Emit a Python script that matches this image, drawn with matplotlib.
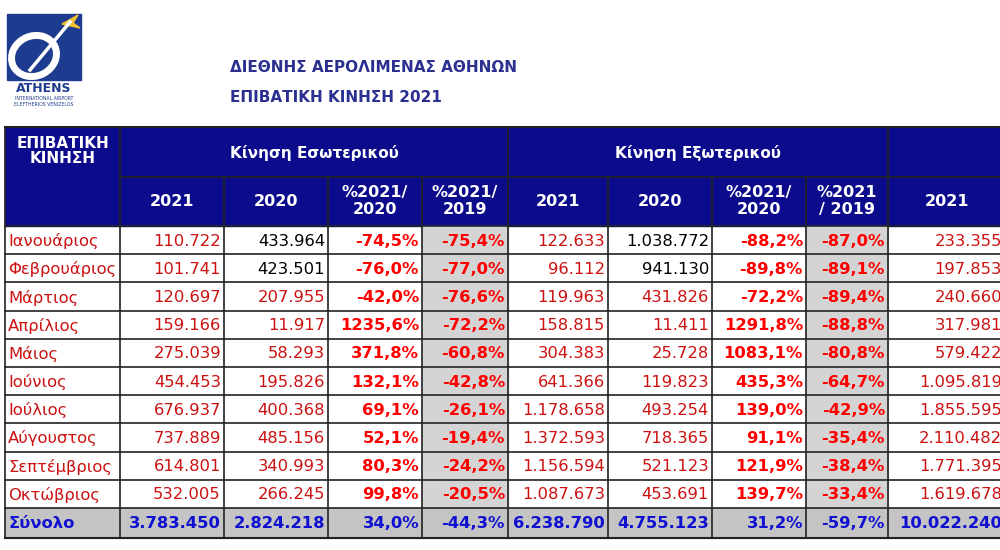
import matplotlib.pyplot as plt
from matplotlib.patches import Rectangle, Ellipse, Polygon

months = ["Ιανουάριος", "Φεβρουάριος", "Μάρτιος", "Απρίλιος", "Μάιος", "Ιούνιος",
          "Ιούλιος", "Αύγουστος", "Σεπτέμβριος", "Οκτώβριος"]
dom_2021 = ["110.722", "101.741", "120.697", "159.166", "275.039", "454.453",
            "676.937", "737.889", "614.801", "532.005"]
dom_2020 = ["433.964", "423.501", "207.955", "11.917", "58.293", "195.826",
            "400.368", "485.156", "340.993", "266.245"]
dom_pct20 = ["-74,5%", "-76,0%", "-42,0%", "1235,6%", "371,8%", "132,1%",
             "69,1%", "52,1%", "80,3%", "99,8%"]
dom_pct19 = ["-75,4%", "-77,0%", "-76,6%", "-72,2%", "-60,8%", "-42,8%",
             "-26,1%", "-19,4%", "-24,2%", "-20,5%"]
int_2021 = ["122.633", "96.112", "119.963", "158.815", "304.383", "641.366",
            "1.178.658", "1.372.593", "1.156.594", "1.087.673"]
int_2020 = ["1.038.772", "941.130", "431.826", "11.411", "25.728", "119.823",
            "493.254", "718.365", "521.123", "453.691"]
int_pct20 = ["-88,2%", "-89,8%", "-72,2%", "1291,8%", "1083,1%", "435,3%",
             "139,0%", "91,1%", "121,9%", "139,7%"]
int_pct19 = ["-87,0%", "-89,1%", "-89,4%", "-88,8%", "-80,8%", "-64,7%",
             "-42,9%", "-35,4%", "-38,4%", "-33,4%"]
tot_2021 = ["233.355", "197.853", "240.660", "317.981", "579.422", "1.095.819",
            "1.855.595", "2.110.482", "1.771.395", "1.619.678"]
totals = ["Σύνολο", "3.783.450", "2.824.218", "34,0%", "-44,3%",
          "6.238.790", "4.755.123", "31,2%", "-59,7%", "10.022.240"]

NAVY = "#0b0b8c"
RED = "#cc1111"
BRED = "#ff0000"
GREY = "#d4d4d4"
FS = 11.8

fig = plt.figure(figsize=(10, 5.5), dpi=100)
ax = fig.add_axes([0, 0, 1, 1])
ax.set_xlim(0, 1000)
ax.set_ylim(550, 0)
ax.axis("off")
plt.rcParams["font.family"] = "DejaVu Sans"

# logo
ax.add_patch(Rectangle((7, 14), 74, 66, color="#1d3b8f"))
ax.add_patch(Ellipse((34, 56), 46, 40, angle=-25, fill=False, ec="white", lw=5))
ax.plot([30, 70], [70, 22], color="white", lw=2.5)
ax.add_patch(Polygon([[62, 24], [78, 15], [73, 23], [80, 28]], color="#f2c230"))
ax.text(44, 89, "ATHENS", ha="center", va="center", fontsize=9, weight="bold", color="#1d3b8f")
ax.text(44, 98, "INTERNATIONAL AIRPORT", ha="center", va="center", fontsize=3.3, color="#1d3b8f")
ax.text(44, 104, "ELEFTHERIOS VENIZELOS", ha="center", va="center", fontsize=3.3, color="#1d3b8f")

ax.text(230, 67, "ΔΙΕΘΝΗΣ ΑΕΡΟΛΙΜΕΝΑΣ ΑΘΗΝΩΝ", fontsize=11, weight="bold", color="#2b2f8f", va="center")
ax.text(230, 97, "ΕΠΙΒΑΤΙΚΗ ΚΙΝΗΣΗ 2021", fontsize=11, weight="bold", color="#2b2f8f", va="center")

cols = [5, 120, 224, 328, 422, 508, 608, 712, 806, 888, 1005]
h1, h2, top = 127, 177, 226
rh = 28.2
nrow = len(months)
bottom_data = top + nrow * rh
bottom = bottom_data + 30

# header
ax.add_patch(Rectangle((cols[0], h1), cols[-1] - cols[0], top - h1, color=NAVY))
ax.text((cols[0] + cols[1]) / 2, 151, "ΕΠΙΒΑΤΙΚΗ\nΚΙΝΗΣΗ", ha="center", va="center",
        color="white", weight="bold", fontsize=11, linespacing=1.0)
ax.text((cols[1] + cols[5]) / 2, 153, "Κίνηση Εσωτερικού", ha="center", va="center",
        color="white", weight="bold", fontsize=11)
ax.text((cols[5] + cols[9]) / 2, 153, "Κίνηση Εξωτερικού", ha="center", va="center",
        color="white", weight="bold", fontsize=11)
sub = ["2021", "2020", "%2021/\n2020", "%2021/\n2019", "2021", "2020", "%2021/\n2020", "%2021\n/ 2019", "2021"]
for i, s in enumerate(sub):
    ax.text((cols[i + 1] + cols[i + 2]) / 2, 201, s, ha="center", va="center",
            color="white", weight="bold", fontsize=11.5, linespacing=1.1)

# shading
for c in (4, 8):
    ax.add_patch(Rectangle((cols[c], top), cols[c + 1] - cols[c], bottom_data - top, color=GREY))
ax.add_patch(Rectangle((cols[0], bottom_data), cols[-1] - cols[0], bottom - bottom_data, color="#c4c4c4"))

# body
for r in range(nrow):
    y = top + (r + 0.5) * rh + 1
    ax.text(cols[0] + 3, y, months[r], ha="left", va="center", color=RED, fontsize=FS)
    vals = [dom_2021[r], dom_2020[r], dom_pct20[r], dom_pct19[r],
            int_2021[r], int_2020[r], int_pct20[r], int_pct19[r], tot_2021[r]]
    for i, v in enumerate(vals):
        bold = i in (2, 3, 6, 7)
        col = BRED if bold else RED
        if i in (1, 5) and r < 2:
            col = "black"
        ax.text(cols[i + 2] - 3, y, v, ha="right", va="center", color=col,
                fontsize=FS, weight="bold" if bold else "normal")

ty = (bottom_data + bottom) / 2 + 1
ax.text(cols[0] + 3, ty, totals[0], ha="left", va="center", color="#1010d0", weight="bold", fontsize=FS)
for i, v in enumerate(totals[1:]):
    ax.text(cols[i + 2] - 3, ty, v, ha="right", va="center", color="#1010d0", weight="bold", fontsize=FS)

# grid lines
for x in cols[:-1]:
    ax.plot([x, x], [h1 if x in (cols[0], cols[1], cols[5], cols[9]) else h2, bottom], color="#222222", lw=1.2)
ax.plot([cols[1], cols[-1]], [h2, h2], color="#222222", lw=1.2)
for r in range(nrow + 1):
    ax.plot([cols[0], cols[-1]], [top + r * rh] * 2, color="#222222", lw=1.2)
ax.plot([cols[0], cols[-1]], [h1, h1], color="#222222", lw=1.5)
ax.plot([cols[0], cols[-1]], [bottom, bottom], color="#222222", lw=1.5)

fig.savefig("out.png", dpi=100)
